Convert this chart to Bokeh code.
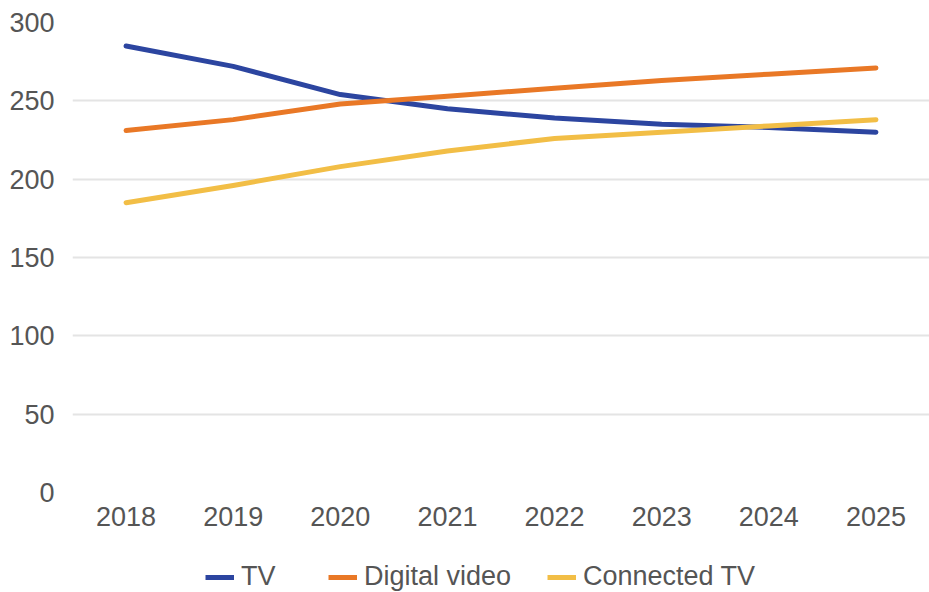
from bokeh.plotting import figure
from bokeh.models import Range1d, FixedTicker, Legend, LegendItem
from bokeh.layouts import column
from bokeh.embed import file_html
from bokeh.resources import INLINE

years = [2018, 2019, 2020, 2021, 2022, 2023, 2024, 2025]
tv = [285, 272, 254, 245, 239, 235, 233, 230]
digital_video = [231, 238, 248, 253, 258, 263, 267, 271]
connected_tv = [185, 196, 208, 218, 226, 230, 234, 238]
y_ticks = [0, 50, 100, 150, 200, 250, 300]

series = [
    ("TV", tv, "#2C45A0"),
    ("Digital video", digital_video, "#E97826"),
    ("Connected TV", connected_tv, "#F2BE46"),
]

FONT = "Liberation Sans"
TXT = "#555555"
FS = "27px"

# main chart
p = figure(width=929, height=550, output_backend="svg", toolbar_location=None,
           x_range=Range1d(2017.5, 2025.5), y_range=Range1d(0, 300))
p.min_border_left = 72
p.min_border_right = 0
p.min_border_top = 22
p.min_border_bottom = 58
p.outline_line_color = None
p.background_fill_color = "white"
p.border_fill_color = "white"

for name, vals, col in series:
    p.line(years, vals, line_color=col, line_width=5, line_cap="round", line_join="round")

for ax in (p.xaxis[0], p.yaxis[0]):
    ax.axis_line_color = None
    ax.major_tick_line_color = None
    ax.minor_tick_line_color = None
    ax.major_label_text_font = FONT
    ax.major_label_text_font_size = FS
    ax.major_label_text_color = TXT

p.xaxis[0].ticker = FixedTicker(ticks=years)
p.xaxis[0].major_label_standoff = 8
p.yaxis[0].ticker = FixedTicker(ticks=y_ticks)
p.yaxis[0].major_label_standoff = 12

p.xgrid.grid_line_color = None
p.ygrid.grid_line_color = "#e4e4e4"
p.ygrid.grid_line_width = 2
p.ygrid.ticker = FixedTicker(ticks=y_ticks)

# legend strip
q = figure(width=929, height=42, output_backend="svg", toolbar_location=None,
           x_range=Range1d(0, 1), y_range=Range1d(0, 1))
q.min_border = 0
q.min_border_left = 0
q.min_border_right = 0
q.min_border_top = 0
q.min_border_bottom = 0
q.axis.visible = False
q.grid.visible = False
q.outline_line_color = None
q.background_fill_color = "white"
q.border_fill_color = "white"

legend_x = [133, 256, 475]
for (name, vals, col), lx in zip(series, legend_x):
    r = q.line(years, vals, line_color=col, line_width=5)
    lg = Legend(items=[LegendItem(label=name, renderers=[r])], location=(lx, 0),
                orientation="horizontal", padding=0, margin=0, spacing=0,
                border_line_color=None, background_fill_alpha=0,
                inactive_fill_alpha=0,
                glyph_width=29, glyph_height=20, label_standoff=7,
                label_text_font=FONT, label_text_font_size=FS,
                label_text_color=TXT)
    q.add_layout(lg, "center")

layout = column(p, q, spacing=0)
open("out.html", "w").write(file_html(layout, INLINE))
